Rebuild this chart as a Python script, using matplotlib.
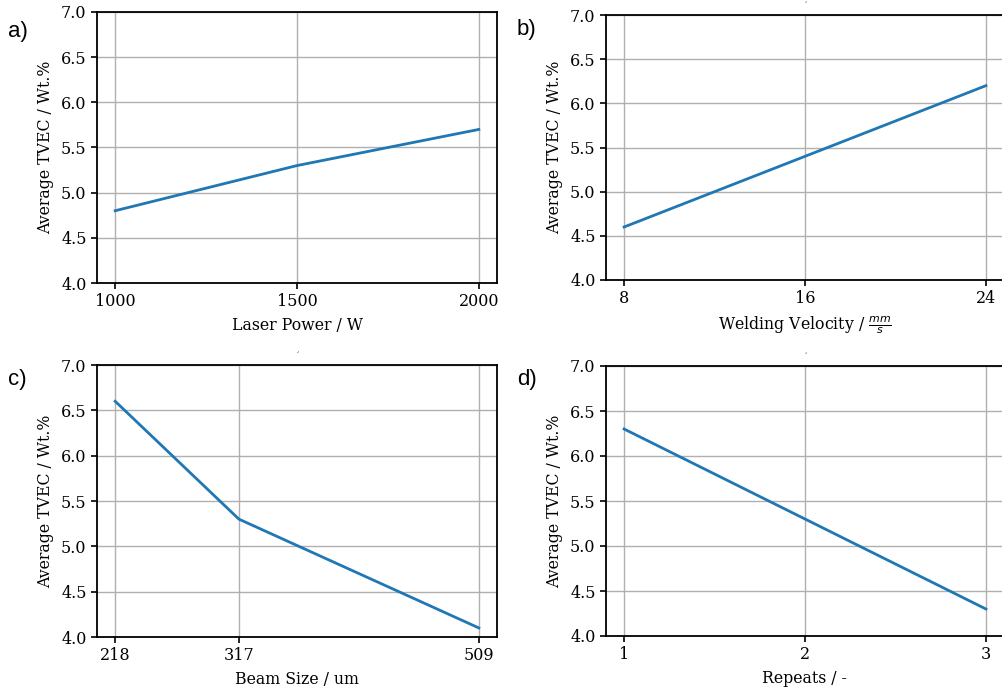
import matplotlib
matplotlib.use("Agg")
import matplotlib.pyplot as plt

laser_power = [1000, 1500, 2000]
tvec_power = [4.8, 5.3, 5.7]
velocity = [8, 16, 24]
tvec_velocity = [4.6, 5.4, 6.2]
beam_size = [218, 317, 509]
tvec_beam = [6.6, 5.3, 4.1]
repeats = [1, 2, 3]
tvec_repeats = [6.3, 5.3, 4.3]

W, H = 1002, 693
fig = plt.figure(figsize=(W / 100, H / 100), dpi=100)
plt.rcParams['font.family'] = 'DejaVu Serif'

def ax_px(x0, y0, x1, y1):
    return fig.add_axes([x0 / W, 1 - y1 / H, (x1 - x0) / W, (y1 - y0) / H])

panels = [
    ((97, 12, 497, 283), laser_power, tvec_power, "Laser Power / W", "a)", (8, 32)),
    ((606, 15, 1004, 280), velocity, tvec_velocity, r"Welding Velocity / $\frac{mm}{s}$", "b)", (517, 30)),
    ((97, 365, 497, 637), beam_size, tvec_beam, "Beam Size / um", "c)", (8, 380)),
    ((606, 366, 1004, 636), repeats, tvec_repeats, "Repeats / -", "d)", (517, 380)),
]

for (box, xs, ys, xlabel, tag, tpos) in panels:
    ax = ax_px(*box)
    ax.plot(xs, ys, color='#1f77b4', lw=2)
    ax.set_ylim(4.0, 7.0)
    ax.set_xticks(xs)
    ax.set_xticklabels([str(v) for v in xs])
    ax.set_yticks([4.0, 4.5, 5.0, 5.5, 6.0, 6.5, 7.0])
    ax.grid(True, color='#b0b0b0', lw=1)
    for s in ax.spines.values():
        s.set_linewidth(1.3)
    ax.set_xlabel(xlabel, fontsize=11.3, labelpad=5)
    ax.set_ylabel("Average TVEC / Wt.%", fontsize=11.3, labelpad=5)
    ax.tick_params(labelsize=11.5, width=1.2, length=4)
    fig.text(tpos[0] / W, 1 - tpos[1] / H, tag, fontsize=16, family='Liberation Sans',
             va='center', ha='left')
    cx = (box[0] + box[2]) / 2
    fig.text(cx / W, 1 - (box[1] - 9) / H, "\u00b4", fontsize=5, ha='center', va='center')

fig.savefig("out.png", dpi=100)
